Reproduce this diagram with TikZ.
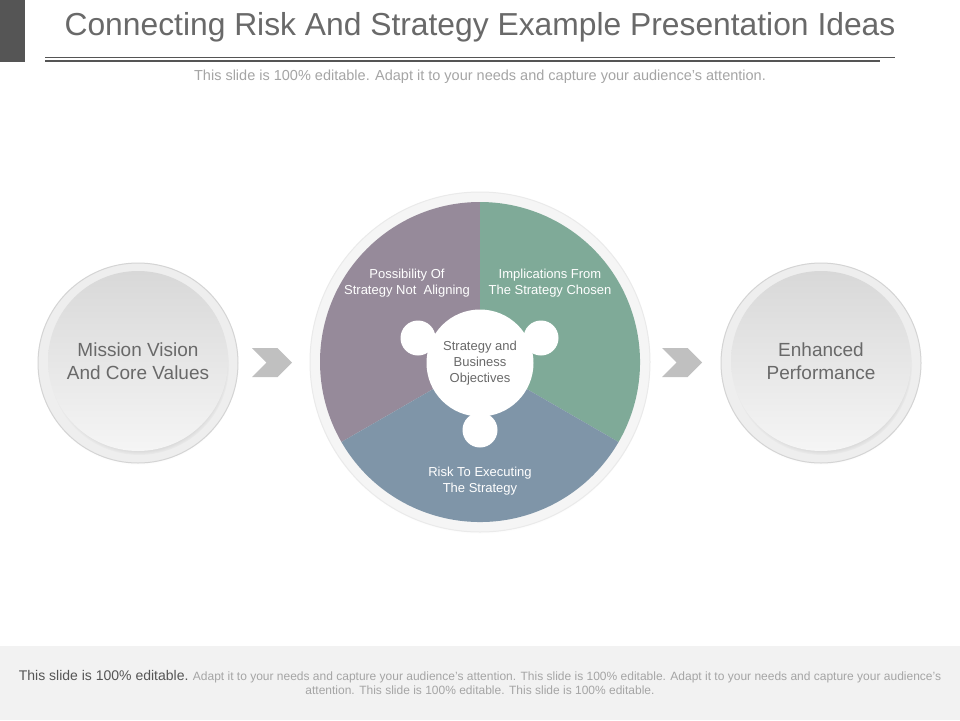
\documentclass[tikz,border=0pt]{standalone}
\usepackage{fontspec}
\setmainfont{Liberation Sans}
\usetikzlibrary{positioning,shapes.symbols,shadows}

\definecolor{barGray}{RGB}{85,85,85}
\definecolor{titleGray}{RGB}{105,105,105}
\definecolor{subGray}{RGB}{165,165,165}
\definecolor{haloGray}{RGB}{238,238,238}
\definecolor{haloEdge}{RGB}{212,212,212}
\definecolor{discTop}{RGB}{216,216,216}
\definecolor{discBot}{RGB}{245,245,245}
\definecolor{chevGray}{RGB}{192,192,192}
\definecolor{pieViolet}{RGB}{150,138,154}
\definecolor{pieGreen}{RGB}{127,170,152}
\definecolor{pieBlue}{RGB}{127,149,168}
\definecolor{footGray}{RGB}{242,242,242}

\begin{document}
\begin{tikzpicture}[x=1pt,y=1pt,yscale=-1,xscale=1,
  halo/.style = {circle, inner sep=0pt, minimum size=200pt, fill=haloGray,
    draw=haloEdge, line width=1pt,
    circular drop shadow={shadow xshift=0pt, shadow yshift=-2pt,
      shadow scale=1.0, opacity=.15}},
  disc/.style = {circle, inner sep=0pt, minimum size=180pt, top color=discTop,
    bottom color=discBot, align=center, text=titleGray,
    font=\fontsize{19}{23}\selectfont,
    circular drop shadow={shadow xshift=1pt, shadow yshift=-4pt,
      shadow scale=1.0, opacity=.5}},
  chev/.style = {signal, signal to=east, signal from=west, fill=chevGray,
    draw=none, inner sep=0pt, minimum width=40pt, minimum height=29pt},
  knob/.style = {circle, fill=white, inner sep=0pt, minimum size=35pt},
  hub/.style = {circle, fill=white, inner sep=0pt, minimum size=107pt,
    align=center, text=titleGray, font=\fontsize{13}{16}\selectfont},
  slice/.style = {align=center, text=white, font=\fontsize{13}{16}\selectfont}]
  \useasboundingbox (0,0) rectangle (960,720);
  \fill[white] (0,0) rectangle (960,720);

  % heading
  \fill[barGray] (0,0) rectangle (25,62);
  \draw[barGray, line width=.6pt] (45,57.5) -- (895,57.5);
  \draw[barGray, line width=2pt] (45,61) -- (880,61);
  \node[text=titleGray, font=\fontsize{31.8}{36}\selectfont] (title) at (480,27)
    {Connecting Risk And Strategy Example Presentation Ideas};
  \node[text=subGray, font=\fontsize{14.5}{16}\selectfont] (sub) at (480,77)
    {This slide is 100\% editable. Adapt it to your needs and capture your audience's attention.};

  % side circles
  \node[halo] (mvHalo) at (138,363) {};
  \node[disc] (mv) at (138,361) {Mission Vision\\And Core Values};
  \node[halo] (epHalo) at (821,363) {};
  \node[disc] (ep) at (821,361) {Enhanced\\Performance};

  \node[chev] (arrL) at (272,362.5) {};
  \node[chev] (arrR) at (682,362.5) {};

  % pie
  \node[halo, minimum size=340pt, fill=haloGray!60, draw=haloEdge!50] (pieHalo) at (480,362) {};
  \begin{scope}[shift={(480,362)},yscale=-1]
    \fill[pieViolet] (0,0) -- (90:160) arc[start angle=90,end angle=210,radius=160] -- cycle;
    \fill[pieGreen] (0,0) -- (-30:160) arc[start angle=-30,end angle=90,radius=160] -- cycle;
    \fill[pieBlue] (0,0) -- (210:160) arc[start angle=210,end angle=330,radius=160] -- cycle;
  \end{scope}
  \node[knob] (knobL) at (418,338) {};
  \node[knob] (knobR) at (541,338) {};
  \node[knob] (knobB) at (480,430) {};
  \node[hub] (sbo) at (480,363) {Strategy and\\Business\\Objectives};

  \node[slice] (possib) at (407,283) {Possibility Of\\Strategy Not\ \ Aligning};
  \node[slice] (implic) at (550,283) {Implications From\\The Strategy Chosen};
  \node[slice] (risk) at (480,481) {Risk To Executing\\The Strategy};

  % footer
  \fill[footGray] (0,646) rectangle (960,720);
  \node[align=center, text=subGray, font=\fontsize{12}{14}\selectfont] (foot) at (480,682)
    {{\color{barGray}\fontsize{14}{14}\selectfont This slide is 100\% editable.} Adapt it to your needs and capture your audience's attention. This slide is 100\% editable. Adapt it to your needs and capture your audience's\\attention. This slide is 100\% editable. This slide is 100\% editable.};
\end{tikzpicture}
\end{document}
